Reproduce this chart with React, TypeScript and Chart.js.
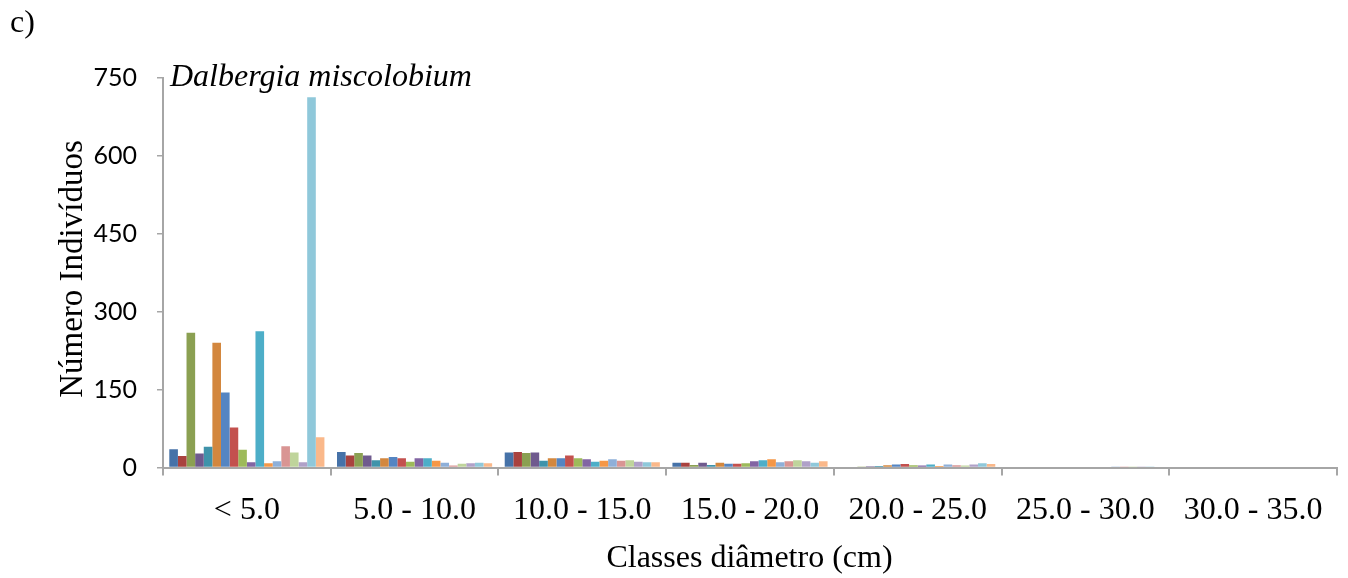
import { useEffect, useRef } from "react";
import { Chart, registerables } from "chart.js";

Chart.register(...registerables);

// Diameter classes (cm)
const classLabels = [
  "< 5.0",
  "5.0 - 10.0",
  "10.0 - 15.0",
  "15.0 - 20.0",
  "20.0 - 25.0",
  "25.0 - 30.0",
  "30.0 - 35.0",
];

// Number of individuals per plot (18 plots) in each diameter class
const classUnder5 = [35, 22, 259, 27, 40, 240, 144, 77, 34, 10, 262, 8, 12, 41, 29, 10, 712, 58];
const class5to10 = [30, 23, 28, 23, 14, 18, 20, 18, 11, 18, 18, 13, 9, 4, 7, 8, 9, 8];
const class10to15 = [29, 30, 28, 29, 13, 18, 18, 23, 18, 16, 11, 13, 16, 13, 14, 11, 10, 10];
const class15to20 = [9, 9, 5, 9, 5, 9, 7, 7, 8, 12, 14, 16, 10, 12, 14, 12, 9, 12];
const class20to25 = [0, 0, 1, 2.5, 3, 4.5, 6, 6.5, 4.5, 4, 6, 3, 6, 4.5, 4, 6, 8, 6.5];
const class25to30 = [0, 0, 0, 0, 0, 0, 0, 0, 0, 0, 0, 0, 0.8, 0.5, 0.3, 0.8, 0.8, 0];
const class30to35 = [0, 0, 0, 0, 0, 0, 0, 0, 0, 0, 0, 0, 0, 0, 0, 0, 0, 0];

const yTickValues = [0, 150, 300, 450, 600, 750];

const plotColors = [
  "#4672A8", "#A9423F", "#8BA052", "#6F5A8E", "#3F93AA", "#D3873E",
  "#5585C2", "#C3514E", "#9DBA5A", "#8265A3", "#4DAEC8", "#F59747",
  "#8EAFD8", "#D99593", "#BFD49B", "#B0A1C8", "#8FC8DA", "#FAB88A",
];

const SERIF = '"Liberation Serif", "Times New Roman", serif';
const SANS = 'Lato, "Open Sans", sans-serif';
const AXIS_GRAY = "#a6a6a6";

const classTable = [
  classUnder5,
  class5to10,
  class10to15,
  class15to20,
  class20to25,
  class25to30,
  class30to35,
];

// Panel letter, species name and axis titles
const textPlugin = {
  id: "panelText",
  afterDraw(chart: Chart) {
    const ctx = chart.ctx;
    ctx.save();
    ctx.fillStyle = "#000";
    ctx.textBaseline = "alphabetic";

    ctx.textAlign = "left";
    ctx.font = `32px ${SERIF}`;
    ctx.fillText("c)", 10, 32);

    ctx.font = `italic 32px ${SERIF}`;
    ctx.fillText("Dalbergia miscolobium", 170, 85.5);

    ctx.font = `32px ${SERIF}`;
    ctx.textAlign = "center";
    ctx.fillText("Classes diâmetro (cm)", 749.5, 567);

    ctx.font = `33px ${SERIF}`;
    ctx.translate(82, 269);
    ctx.rotate(-Math.PI / 2);
    ctx.fillText("Número Indivíduos", 0, 0);
    ctx.restore();
  },
};

export default function App() {
  const canvasRef = useRef<HTMLCanvasElement | null>(null);

  useEffect(() => {
    const canvas = canvasRef.current;
    if (!canvas) return;

    const datasets = plotColors.map((color, i) => ({
      label: `Parcela ${i + 1}`,
      data: classTable.map((row) => row[i]),
      backgroundColor: color,
      borderWidth: 0,
      categoryPercentage: 0.925,
      barPercentage: 1.0,
    }));

    const chart = new Chart(canvas, {
      type: "bar",
      data: { labels: classLabels, datasets },
      plugins: [textPlugin],
      options: {
        animation: false,
        responsive: false,
        devicePixelRatio: 1,
        layout: { padding: { top: 77.5, right: 11, bottom: 0, left: 0 } },
        plugins: {
          legend: { display: false },
          tooltip: { enabled: false },
          title: { display: false },
        },
        scales: {
          x: {
            offset: true,
            grid: {
              display: true,
              offset: true,
              drawOnChartArea: false,
              drawTicks: true,
              tickLength: 8,
              color: AXIS_GRAY,
              lineWidth: 2,
            },
            border: { display: true, color: AXIS_GRAY, width: 2 },
            ticks: {
              color: "#000",
              font: { family: SERIF, size: 32 },
              padding: 16,
              maxRotation: 0,
              autoSkip: false,
            },
            afterFit(scale: any) {
              scale.height = 578 - 467.5;
            },
          },
          y: {
            min: 0,
            max: 750,
            grid: {
              display: true,
              drawOnChartArea: false,
              drawTicks: true,
              tickLength: 6,
              color: AXIS_GRAY,
              lineWidth: 1.5,
            },
            border: { display: true, color: AXIS_GRAY, width: 2 },
            ticks: {
              color: "#000",
              font: { family: SANS, size: 25 },
              padding: 20,
            },
            afterBuildTicks(scale: any) {
              scale.ticks = yTickValues.map((v) => ({ value: v }));
            },
            afterFit(scale: any) {
              scale.width = 163;
            },
          },
        },
      },
    });

    return () => chart.destroy();
  }, []);

  return (
    <div style={{ position: "fixed", left: 0, top: 0, width: 1348, height: 578, background: "#fff" }}>
      <canvas ref={canvasRef} width={1348} height={578} />
    </div>
  );
}
